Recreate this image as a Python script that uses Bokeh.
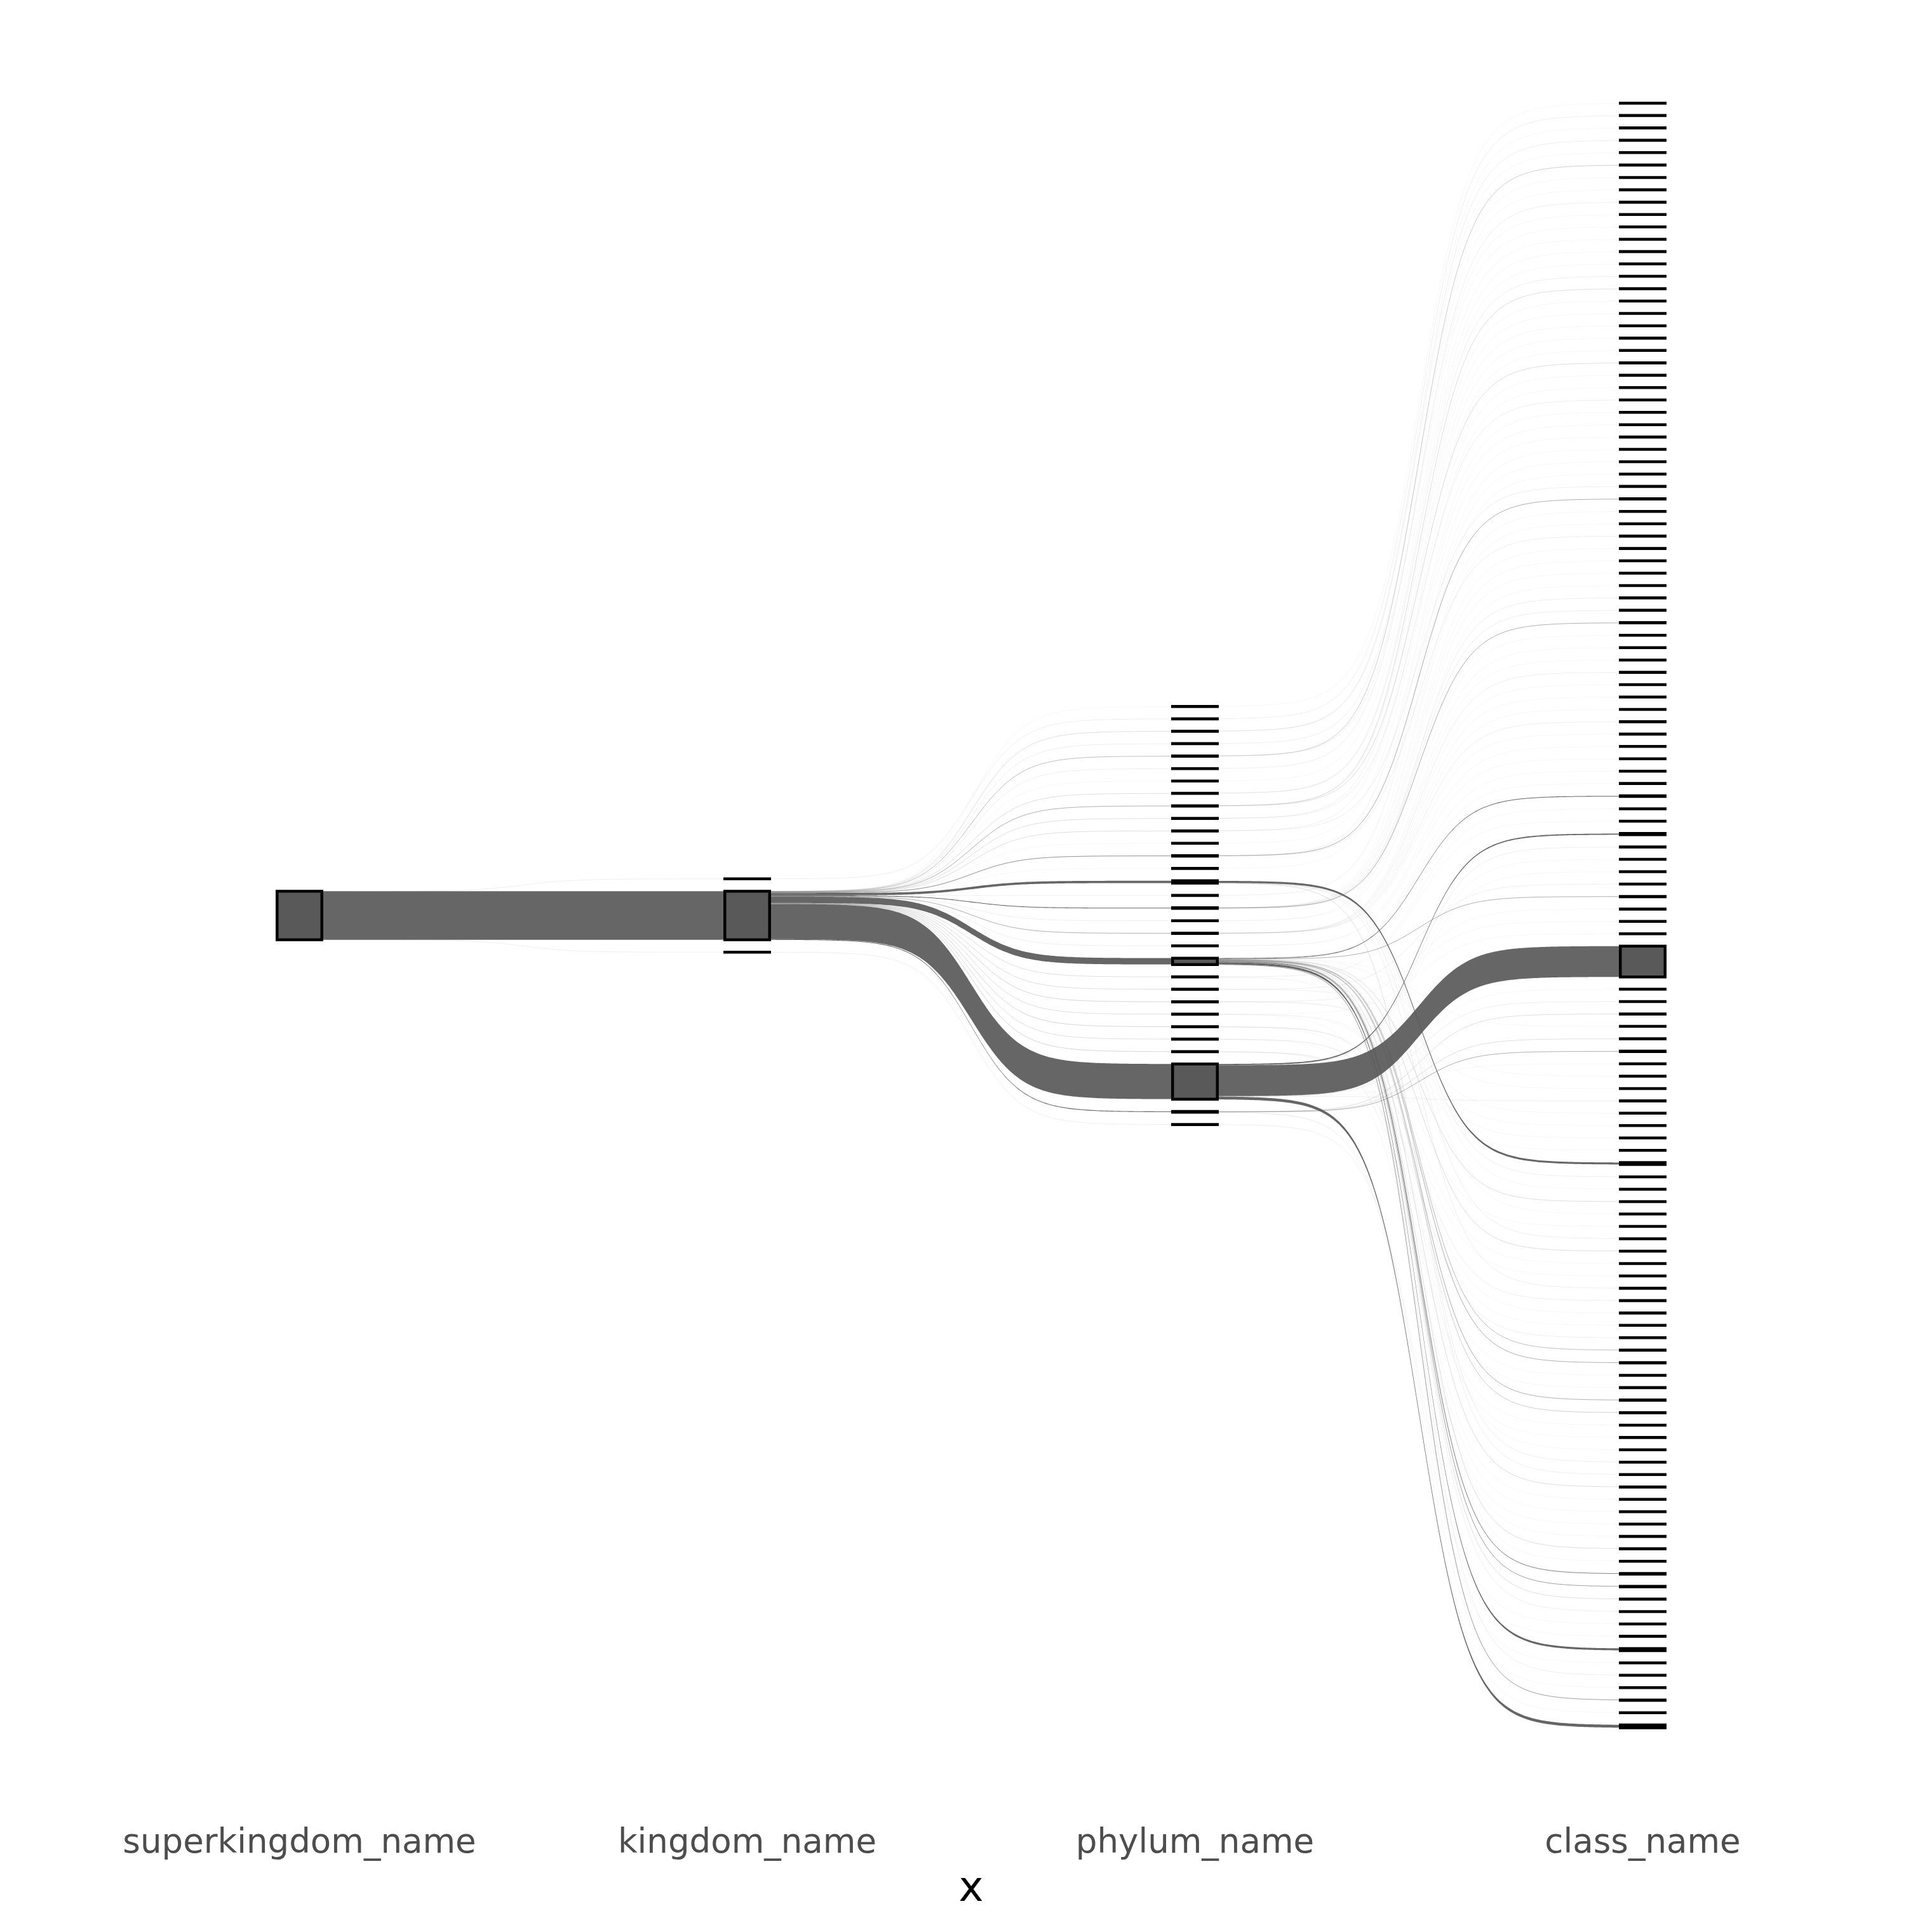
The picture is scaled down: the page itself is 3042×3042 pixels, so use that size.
import numpy as np
from bokeh.plotting import figure
from bokeh.models import Range1d, FixedTicker
from bokeh.embed import file_html
from bokeh.resources import INLINE

# ---------------- data ----------------
stages = ["superkingdom_name", "kingdom_name", "phylum_name", "class_name"]

superkingdom_names = ["S1"]
kingdom_names = ["K1", "K2", "K3"]            # top -> bottom
phylum_names = ["P%02d" % i for i in range(1, 32)]   # top -> bottom
phylum_kingdom = ["K2"] * 31
phylum_kingdom[1] = "K1"
phylum_kingdom[30] = "K3"

# class nodes, top -> bottom: parent phylum number and count
class_phylum = [
    1, 2, 3, 3, 3, 5, 4, 4, 6, 5, 5, 7, 8, 8, 8, 9, 9, 9, 10, 10,
    11, 9, 11, 12, 10, 13, 13, 14, 16, 16, 17, 11, 13, 17, 17, 13, 17, 17, 17, 18,
    17, 17, 17, 18, 19, 19, 19, 19, 19, 19, 19, 19, 20, 20, 21, 21, 21, 22, 22, 29,
    29, 29, 29, 23, 21, 24, 24, 25,
    29,
    29, 29, 30, 21, 30, 30, 29, 21, 23, 29, 23, 24, 24, 24, 15, 15, 15, 21, 15, 25,
    15, 21, 25, 26, 15, 26, 26, 27, 27, 21, 21, 28, 28, 21, 21, 28, 28, 22, 15, 15,
    21, 26, 27, 28, 25, 21, 22, 21, 21, 21, 21, 31, 31, 21, 30, 21, 30, 21, 30, 29,
]
class_counts = [
    1, 2, 1, 2, 1, 6, 1, 1, 2, 1, 1, 1, 1, 1, 2, 4, 1, 1, 1, 1,
    1, 4, 1, 1, 2, 1, 1, 1, 1, 1, 1, 2, 10, 1, 1, 2, 1, 1, 1, 1,
    2, 2, 10, 1, 1, 1, 2, 1, 1, 1, 2, 1, 1, 1, 1, 1, 20, 1, 1, 35,
    2, 1, 1, 2, 10, 1, 1, 1,
    930,
    1, 2, 4, 1, 4, 10, 1, 1, 1, 2, 1, 1, 1, 1, 58, 2, 1, 4, 1, 1,
    2, 4, 1, 1, 2, 2, 1, 1, 2, 8, 10, 1, 1, 10, 6, 1, 1, 1, 2, 2,
    4, 1, 1, 1, 1, 4, 1, 16, 12, 4, 2, 1, 1, 60, 1, 2, 1, 12, 1, 86,
]
class_names = ["C%03d" % (i + 1) for i in range(len(class_counts))]

# ---------------- derived tables ----------------
phylum_counts = [0] * len(phylum_names)
for ph, c in zip(class_phylum, class_counts):
    phylum_counts[ph - 1] += c
kingdom_counts = [sum(c for k, c in zip(phylum_kingdom, phylum_counts) if k == kn) for kn in kingdom_names]
superkingdom_counts = [sum(kingdom_counts)]

total = float(sum(class_counts))
space = 0.2527 * total          # gap between nodes
node_w = 0.1                    # node width in stage units
grey35 = "#595959"

columns = [
    (superkingdom_names, superkingdom_counts),
    (kingdom_names, kingdom_counts),
    (phylum_names, phylum_counts),
    (class_names, class_counts),
]


def layout(names, counts):
    n = len(names)
    T = sum(counts) + space * (n - 1)
    y = T / 2.0
    pos = {}
    for nm, c in zip(names, counts):
        pos[nm] = [y, y - c]
        y -= c + space
    return pos, T


positions, heights = [], []
for nm, ct in columns:
    pos, T = layout(nm, ct)
    positions.append(pos)
    heights.append(T)

links = [
    [(superkingdom_names[0], k, c) for k, c in zip(kingdom_names, kingdom_counts)],
    [(k, p, c) for k, p, c in zip(phylum_kingdom, phylum_names, phylum_counts)],
    [(phylum_names[ph - 1], cn, c) for ph, cn, c in zip(class_phylum, class_names, class_counts)],
]

# figure geometry (ggplot-like 5% expansion of the tallest column)
W, H = 3042, 3042
BL, BR, BT, BB = 48, 33, 34, 194
Tmax = max(heights)
y_lo, y_hi = -0.55 * Tmax, 0.55 * Tmax
px_per_unit = (H - BT - BB) / (y_hi - y_lo)


def sigmoid(x0, x1, y0, y1, smooth=8, n=160):
    t = np.linspace(-smooth, smooth, n)
    s = 1.0 / (1.0 + np.exp(-t))
    return (t + smooth) / (2 * smooth) * (x1 - x0) + x0, y0 + s * (y1 - y0)


fx, fy = [], []            # wide flows as polygons
lx, ly, la = [], [], []    # hair-thin flows as faint centre lines
for si, lk in enumerate(links):
    src_names = columns[si][0]
    tgt_names = columns[si + 1][0]
    spos, tpos = positions[si], positions[si + 1]
    so = {s: spos[s][0] for s in src_names}
    to = {t: tpos[t][0] for t in tgt_names}
    src_y, tgt_y = {}, {}
    for l in sorted(lk, key=lambda l: (src_names.index(l[0]), tgt_names.index(l[1]))):
        src_y[l] = (so[l[0]], so[l[0]] - l[2])
        so[l[0]] -= l[2]
    for l in sorted(lk, key=lambda l: (tgt_names.index(l[1]), src_names.index(l[0]))):
        tgt_y[l] = (to[l[1]], to[l[1]] - l[2])
        to[l[1]] -= l[2]
    x0 = si + 1 + node_w / 2
    x1 = si + 2 - node_w / 2
    for l in lk:
        hpx = l[2] * px_per_unit
        if hpx < 1.0:
            xm, ym = sigmoid(x0, x1, 0.5 * sum(src_y[l]), 0.5 * sum(tgt_y[l]))
            lx.append(xm)
            ly.append(ym)
            la.append(0.92 * hpx)
        else:
            xa, ya = sigmoid(x0, x1, src_y[l][0], tgt_y[l][0])
            xb, yb = sigmoid(x0, x1, src_y[l][1], tgt_y[l][1])
            fx.append(np.concatenate([xa, xb[::-1]]))
            fy.append(np.concatenate([ya, yb[::-1]]))

nl, nr, nt, nb = [], [], [], []
for si, (nm, ct) in enumerate(columns):
    for n in nm:
        t, b = positions[si][n]
        nl.append(si + 1 - node_w / 2)
        nr.append(si + 1 + node_w / 2)
        nt.append(t)
        nb.append(b)

# ---------------- figure ----------------
p = figure(width=W, height=H, output_backend="svg", toolbar_location=None,
           x_range=Range1d(0.4, 4.6), y_range=Range1d(y_lo, y_hi),
           min_border_left=BL, min_border_right=BR, min_border_top=BT, min_border_bottom=BB,
           y_axis_location=None)
p.outline_line_color = None
p.xgrid.visible = False
p.ygrid.visible = False
p.background_fill_color = "white"

p.multi_line(xs=lx, ys=ly, line_color=grey35, line_alpha=la, line_width=1)
p.patches(xs=fx, ys=fy, fill_color=grey35, fill_alpha=0.92, line_color=None)
p.quad(left=nl, right=nr, top=nt, bottom=nb, fill_color=grey35,
       line_color="black", line_width=4.5, line_join="miter")

ax = p.xaxis[0]
ax.ticker = FixedTicker(ticks=[1, 2, 3, 4])
ax.major_label_overrides = {i + 1: s for i, s in enumerate(stages)}
ax.axis_line_color = None
ax.major_tick_line_color = None
ax.minor_tick_line_color = None
ax.major_tick_out = 0
ax.major_tick_in = 0
ax.major_label_standoff = 19
ax.major_label_text_font = "DejaVu Sans"
ax.major_label_text_font_size = "53px"
ax.major_label_text_color = "#4d4d4d"
ax.axis_label = "x"
ax.axis_label_text_font = "DejaVu Sans"
ax.axis_label_text_font_size = "66px"
ax.axis_label_text_font_style = "normal"
ax.axis_label_text_color = "black"
ax.axis_label_standoff = 0

open("out.html", "w").write(file_html(p, INLINE))
